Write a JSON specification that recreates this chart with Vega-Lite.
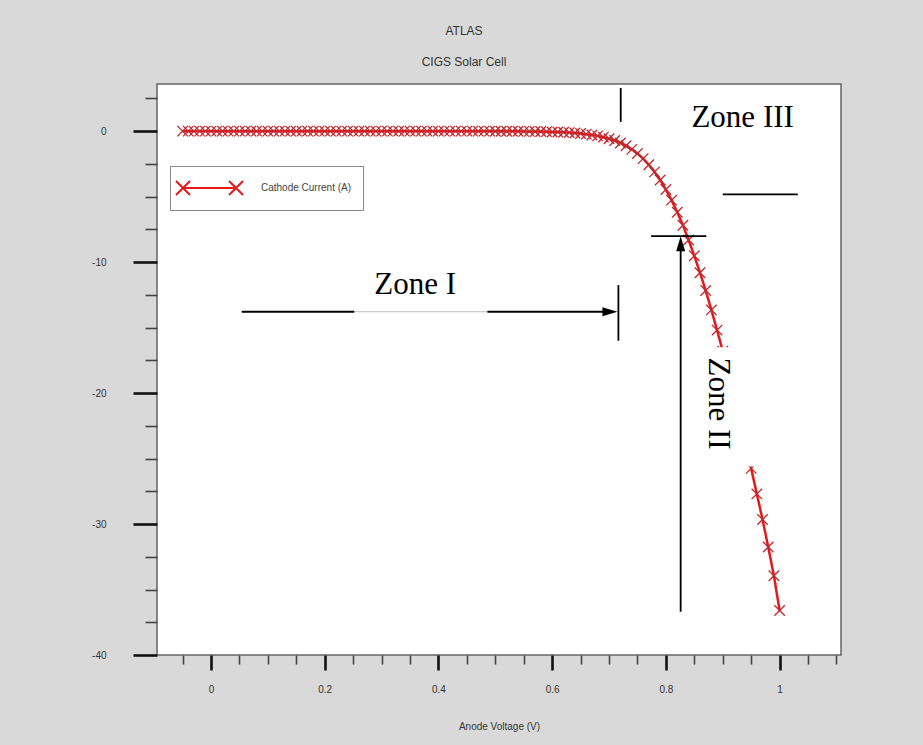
{
  "$schema": "https://vega.github.io/schema/vega-lite/v6.json",
  "width": 684,
  "height": 571,
  "autosize": {"type": "none"},
  "padding": {"left": 157, "top": 84, "right": 82, "bottom": 90},
  "background": "#d9d9d9",
  "title": {"text": ["ATLAS", "CIGS Solar Cell"], "fontSize": 12, "fontWeight": "normal", "color": "#333333", "font": "Liberation Sans", "lineHeight": 31, "offset": 15, "dx": -35, "anchor": "middle", "frame": "group"},
  "config": {"view": {"fill": "white", "stroke": "#666666", "strokeWidth": 1.5}, "font": "Liberation Sans"},
  "datasets": {
    "iv": [
      {"V": -0.05, "I": 0, "series": "Cathode Current (A)"},
      {"V": -0.04, "I": 0, "series": "Cathode Current (A)"},
      {"V": -0.03, "I": 0, "series": "Cathode Current (A)"},
      {"V": -0.02, "I": 0, "series": "Cathode Current (A)"},
      {"V": -0.01, "I": 0, "series": "Cathode Current (A)"},
      {"V": 0.0, "I": 0, "series": "Cathode Current (A)"},
      {"V": 0.01, "I": 0, "series": "Cathode Current (A)"},
      {"V": 0.02, "I": 0, "series": "Cathode Current (A)"},
      {"V": 0.03, "I": 0, "series": "Cathode Current (A)"},
      {"V": 0.04, "I": 0, "series": "Cathode Current (A)"},
      {"V": 0.05, "I": 0, "series": "Cathode Current (A)"},
      {"V": 0.06, "I": 0, "series": "Cathode Current (A)"},
      {"V": 0.07, "I": 0, "series": "Cathode Current (A)"},
      {"V": 0.08, "I": 0, "series": "Cathode Current (A)"},
      {"V": 0.09, "I": 0, "series": "Cathode Current (A)"},
      {"V": 0.10, "I": 0, "series": "Cathode Current (A)"},
      {"V": 0.11, "I": 0, "series": "Cathode Current (A)"},
      {"V": 0.12, "I": 0, "series": "Cathode Current (A)"},
      {"V": 0.13, "I": 0, "series": "Cathode Current (A)"},
      {"V": 0.14, "I": 0, "series": "Cathode Current (A)"},
      {"V": 0.15, "I": 0, "series": "Cathode Current (A)"},
      {"V": 0.16, "I": 0, "series": "Cathode Current (A)"},
      {"V": 0.17, "I": 0, "series": "Cathode Current (A)"},
      {"V": 0.18, "I": 0, "series": "Cathode Current (A)"},
      {"V": 0.19, "I": 0, "series": "Cathode Current (A)"},
      {"V": 0.20, "I": 0, "series": "Cathode Current (A)"},
      {"V": 0.21, "I": 0, "series": "Cathode Current (A)"},
      {"V": 0.22, "I": 0, "series": "Cathode Current (A)"},
      {"V": 0.23, "I": 0, "series": "Cathode Current (A)"},
      {"V": 0.24, "I": 0, "series": "Cathode Current (A)"},
      {"V": 0.25, "I": 0, "series": "Cathode Current (A)"},
      {"V": 0.26, "I": 0, "series": "Cathode Current (A)"},
      {"V": 0.27, "I": 0, "series": "Cathode Current (A)"},
      {"V": 0.28, "I": 0, "series": "Cathode Current (A)"},
      {"V": 0.29, "I": 0, "series": "Cathode Current (A)"},
      {"V": 0.30, "I": 0, "series": "Cathode Current (A)"},
      {"V": 0.31, "I": 0, "series": "Cathode Current (A)"},
      {"V": 0.32, "I": 0, "series": "Cathode Current (A)"},
      {"V": 0.33, "I": 0, "series": "Cathode Current (A)"},
      {"V": 0.34, "I": 0, "series": "Cathode Current (A)"},
      {"V": 0.35, "I": 0, "series": "Cathode Current (A)"},
      {"V": 0.36, "I": 0, "series": "Cathode Current (A)"},
      {"V": 0.37, "I": 0, "series": "Cathode Current (A)"},
      {"V": 0.38, "I": 0, "series": "Cathode Current (A)"},
      {"V": 0.39, "I": 0, "series": "Cathode Current (A)"},
      {"V": 0.40, "I": 0, "series": "Cathode Current (A)"},
      {"V": 0.41, "I": 0, "series": "Cathode Current (A)"},
      {"V": 0.42, "I": 0, "series": "Cathode Current (A)"},
      {"V": 0.43, "I": 0, "series": "Cathode Current (A)"},
      {"V": 0.44, "I": 0, "series": "Cathode Current (A)"},
      {"V": 0.45, "I": 0, "series": "Cathode Current (A)"},
      {"V": 0.46, "I": 0, "series": "Cathode Current (A)"},
      {"V": 0.47, "I": 0, "series": "Cathode Current (A)"},
      {"V": 0.48, "I": 0, "series": "Cathode Current (A)"},
      {"V": 0.49, "I": 0, "series": "Cathode Current (A)"},
      {"V": 0.50, "I": -0.01, "series": "Cathode Current (A)"},
      {"V": 0.51, "I": -0.01, "series": "Cathode Current (A)"},
      {"V": 0.52, "I": -0.01, "series": "Cathode Current (A)"},
      {"V": 0.53, "I": -0.01, "series": "Cathode Current (A)"},
      {"V": 0.54, "I": -0.01, "series": "Cathode Current (A)"},
      {"V": 0.55, "I": -0.02, "series": "Cathode Current (A)"},
      {"V": 0.56, "I": -0.02, "series": "Cathode Current (A)"},
      {"V": 0.57, "I": -0.03, "series": "Cathode Current (A)"},
      {"V": 0.58, "I": -0.03, "series": "Cathode Current (A)"},
      {"V": 0.59, "I": -0.04, "series": "Cathode Current (A)"},
      {"V": 0.60, "I": -0.06, "series": "Cathode Current (A)"},
      {"V": 0.61, "I": -0.07, "series": "Cathode Current (A)"},
      {"V": 0.62, "I": -0.09, "series": "Cathode Current (A)"},
      {"V": 0.63, "I": -0.11, "series": "Cathode Current (A)"},
      {"V": 0.64, "I": -0.14, "series": "Cathode Current (A)"},
      {"V": 0.65, "I": -0.18, "series": "Cathode Current (A)"},
      {"V": 0.66, "I": -0.23, "series": "Cathode Current (A)"},
      {"V": 0.67, "I": -0.29, "series": "Cathode Current (A)"},
      {"V": 0.68, "I": -0.36, "series": "Cathode Current (A)"},
      {"V": 0.69, "I": -0.46, "series": "Cathode Current (A)"},
      {"V": 0.70, "I": -0.58, "series": "Cathode Current (A)"},
      {"V": 0.71, "I": -0.72, "series": "Cathode Current (A)"},
      {"V": 0.72, "I": -0.90, "series": "Cathode Current (A)"},
      {"V": 0.73, "I": -1.12, "series": "Cathode Current (A)"},
      {"V": 0.74, "I": -1.39, "series": "Cathode Current (A)"},
      {"V": 0.75, "I": -1.71, "series": "Cathode Current (A)"},
      {"V": 0.76, "I": -2.10, "series": "Cathode Current (A)"},
      {"V": 0.77, "I": -2.57, "series": "Cathode Current (A)"},
      {"V": 0.78, "I": -3.11, "series": "Cathode Current (A)"},
      {"V": 0.79, "I": -3.73, "series": "Cathode Current (A)"},
      {"V": 0.80, "I": -4.46, "series": "Cathode Current (A)"},
      {"V": 0.81, "I": -5.27, "series": "Cathode Current (A)"},
      {"V": 0.82, "I": -6.19, "series": "Cathode Current (A)"},
      {"V": 0.83, "I": -7.19, "series": "Cathode Current (A)"},
      {"V": 0.84, "I": -8.31, "series": "Cathode Current (A)"},
      {"V": 0.85, "I": -9.52, "series": "Cathode Current (A)"},
      {"V": 0.86, "I": -10.81, "series": "Cathode Current (A)"},
      {"V": 0.87, "I": -12.17, "series": "Cathode Current (A)"},
      {"V": 0.88, "I": -13.65, "series": "Cathode Current (A)"},
      {"V": 0.89, "I": -15.19, "series": "Cathode Current (A)"},
      {"V": 0.90, "I": -16.80, "series": "Cathode Current (A)"},
      {"V": 0.91, "I": -18.48, "series": "Cathode Current (A)"},
      {"V": 0.92, "I": -20.20, "series": "Cathode Current (A)"},
      {"V": 0.93, "I": -22.00, "series": "Cathode Current (A)"},
      {"V": 0.94, "I": -23.85, "series": "Cathode Current (A)"},
      {"V": 0.95, "I": -25.75, "series": "Cathode Current (A)"},
      {"V": 0.96, "I": -27.70, "series": "Cathode Current (A)"},
      {"V": 0.97, "I": -29.65, "series": "Cathode Current (A)"},
      {"V": 0.98, "I": -31.75, "series": "Cathode Current (A)"},
      {"V": 0.99, "I": -33.95, "series": "Cathode Current (A)"},
      {"V": 1.00, "I": -36.60, "series": "Cathode Current (A)"}
    ],
    "segBlack": [
      {"x1": 0.054, "x2": 0.252, "y1": -13.79, "y2": -13.79},
      {"x1": 0.486, "x2": 0.705, "y1": -13.79, "y2": -13.79},
      {"x1": 0.7165, "x2": 0.7165, "y1": -11.76, "y2": -16.0},
      {"x1": 0.7206, "x2": 0.7206, "y1": 3.3, "y2": 0.71},
      {"x1": 0.9, "x2": 1.032, "y1": -4.83, "y2": -4.83},
      {"x1": 0.774, "x2": 0.871, "y1": -8.02, "y2": -8.02},
      {"x1": 0.826, "x2": 0.826, "y1": -9.0, "y2": -36.7}
    ],
    "segGrey": [
      {"x1": 0.252, "x2": 0.486, "y1": -13.79, "y2": -13.79}
    ],
    "heads": [
      {"x": 0.7016, "y": -13.79, "dir": "right"},
      {"x": 0.826, "y": -8.59, "dir": "up"}
    ],
    "box": [
      {"x1": 0.861, "x2": 0.967, "y1": -16.5, "y2": -25.6}
    ],
    "zones": [
      {"t": "Zone I", "x": 0.359, "y": -11.76},
      {"t": "Zone III", "x": 0.935, "y": 0.99}
    ],
    "zone2": [
      {"t": "Zone II", "x": 0.891, "y": -20.8}
    ]
  },
  "layer": [
    {
      "data": {"name": "iv"},
      "mark": {"type": "line", "strokeWidth": 2.5, "clip": true},
      "encoding": {
        "x": {
          "field": "V", "type": "quantitative", "title": "Anode Voltage (V)",
          "scale": {"domain": [-0.095, 1.108], "nice": false, "zero": false},
          "axis": {
            "values": [-0.05, 0, 0.05, 0.1, 0.15, 0.2, 0.25, 0.3, 0.35, 0.4, 0.45, 0.5, 0.55, 0.6, 0.65, 0.7, 0.75, 0.8, 0.85, 0.9, 0.95, 1, 1.05, 1.1],
            "tickCount": 200,
            "labelOverlap": false,
            "labelExpr": "abs(datum.value*5 - round(datum.value*5)) < 0.000001 ? '' + datum.value : ''",
            "tickSize": {"condition": {"test": "abs(datum.value*5 - round(datum.value*5)) < 0.000001", "value": 15}, "value": 9},
            "tickWidth": {"condition": {"test": "abs(datum.value*5 - round(datum.value*5)) < 0.000001", "value": 2.6}, "value": 1.6},
            "tickColor": {"condition": {"test": "abs(datum.value*5 - round(datum.value*5)) < 0.000001", "value": "#111111"}, "value": "#444444"},
            "domain": false, "grid": false,
            "labelPadding": 14, "labelFontSize": 10, "labelColor": "#333333", "labelFont": "Liberation Sans",
            "titleFontSize": 10, "titleFontWeight": "normal", "titleColor": "#333333", "titleFont": "Liberation Sans", "titlePadding": 27
          }
        },
        "y": {
          "field": "I", "type": "quantitative", "title": null,
          "scale": {"domain": [-40, 3.6], "nice": false, "zero": false},
          "axis": {
            "values": [2.5, 0, -2.5, -5, -7.5, -10, -12.5, -15, -17.5, -20, -22.5, -25, -27.5, -30, -32.5, -35, -37.5, -40],
            "tickCount": 200,
            "labelOverlap": false,
            "labelExpr": "datum.value % 10 == 0 ? '' + datum.value : ''",
            "tickSize": {"condition": {"test": "datum.value % 10 == 0", "value": 24}, "value": 12},
            "tickWidth": {"condition": {"test": "datum.value % 10 == 0", "value": 2.6}, "value": 1.6},
            "tickColor": {"condition": {"test": "datum.value % 10 == 0", "value": "#111111"}, "value": "#444444"},
            "domain": false, "grid": false,
            "labelPadding": 27, "labelFontSize": 10, "labelColor": "#333333", "labelFont": "Liberation Sans"
          }
        },
        "color": {
          "field": "series", "type": "nominal",
          "scale": {"range": ["#e31a1c"]},
          "legend": {
            "orient": "none", "legendX": 13, "legendY": 82, "title": null,
            "symbolType": "M-0.9,0L4.4,0M-1.6,-0.7L-0.2,0.7M-1.6,0.7L-0.2,-0.7M3.7,-0.7L5.1,0.7M3.7,0.7L5.1,-0.7",
            "symbolSize": 400, "symbolStrokeWidth": 2, "symbolStrokeColor": "#e31a1c", "symbolFillColor": "transparent",
            "labelFontSize": 10, "labelColor": "#444444", "labelFont": "Liberation Sans", "labelOffset": 58,
            "strokeColor": "#888888", "fillColor": "white", "padding": 11, "cornerRadius": 0
          }
        }
      }
    },
    {
      "data": {"name": "iv"},
      "mark": {"type": "point", "shape": "M-1,-1L1,1M-1,1L1,-1", "filled": false, "stroke": "#c0282e", "strokeWidth": 1.3, "size": 110, "opacity": 1, "clip": true},
      "encoding": {
        "x": {"field": "V", "type": "quantitative", "title": "Anode Voltage (V)"},
        "y": {"field": "I", "type": "quantitative", "title": null}
      }
    },
    {
      "data": {"name": "box"},
      "mark": {"type": "rect", "fill": "white"},
      "encoding": {
        "x": {"field": "x1", "type": "quantitative", "title": "Anode Voltage (V)"},
        "x2": {"field": "x2"},
        "y": {"field": "y1", "type": "quantitative", "title": null},
        "y2": {"field": "y2"}
      }
    },
    {
      "data": {"name": "segGrey"},
      "mark": {"type": "rule", "color": "#bbbbbb", "strokeWidth": 1},
      "encoding": {
        "x": {"field": "x1", "type": "quantitative", "title": "Anode Voltage (V)"},
        "x2": {"field": "x2"},
        "y": {"field": "y1", "type": "quantitative", "title": null},
        "y2": {"field": "y2"}
      }
    },
    {
      "data": {"name": "segBlack"},
      "mark": {"type": "rule", "color": "black", "strokeWidth": 1.8},
      "encoding": {
        "x": {"field": "x1", "type": "quantitative", "title": "Anode Voltage (V)"},
        "x2": {"field": "x2"},
        "y": {"field": "y1", "type": "quantitative", "title": null},
        "y2": {"field": "y2"}
      }
    },
    {
      "data": {"name": "heads"},
      "mark": {"type": "point", "filled": true, "color": "black", "size": 225, "opacity": 1},
      "encoding": {
        "x": {"field": "x", "type": "quantitative", "title": "Anode Voltage (V)"},
        "y": {"field": "y", "type": "quantitative", "title": null},
        "shape": {"field": "dir", "type": "nominal", "scale": {"domain": ["right", "up"], "range": ["M1,0L-1,-0.6L-1,0.6Z", "M0,-1L-0.6,1L0.6,1Z"]}, "legend": null}
      }
    },
    {
      "data": {"name": "zones"},
      "mark": {"type": "text", "font": "Liberation Serif", "fontSize": 31, "color": "black", "align": "center", "baseline": "middle"},
      "encoding": {
        "x": {"field": "x", "type": "quantitative", "title": "Anode Voltage (V)"},
        "y": {"field": "y", "type": "quantitative", "title": null},
        "text": {"field": "t"}
      }
    },
    {
      "data": {"name": "zone2"},
      "mark": {"type": "text", "font": "Liberation Serif", "fontSize": 31, "color": "black", "align": "center", "baseline": "middle", "angle": 90},
      "encoding": {
        "x": {"field": "x", "type": "quantitative", "title": "Anode Voltage (V)"},
        "y": {"field": "y", "type": "quantitative", "title": null},
        "text": {"field": "t"}
      }
    }
  ]
}
